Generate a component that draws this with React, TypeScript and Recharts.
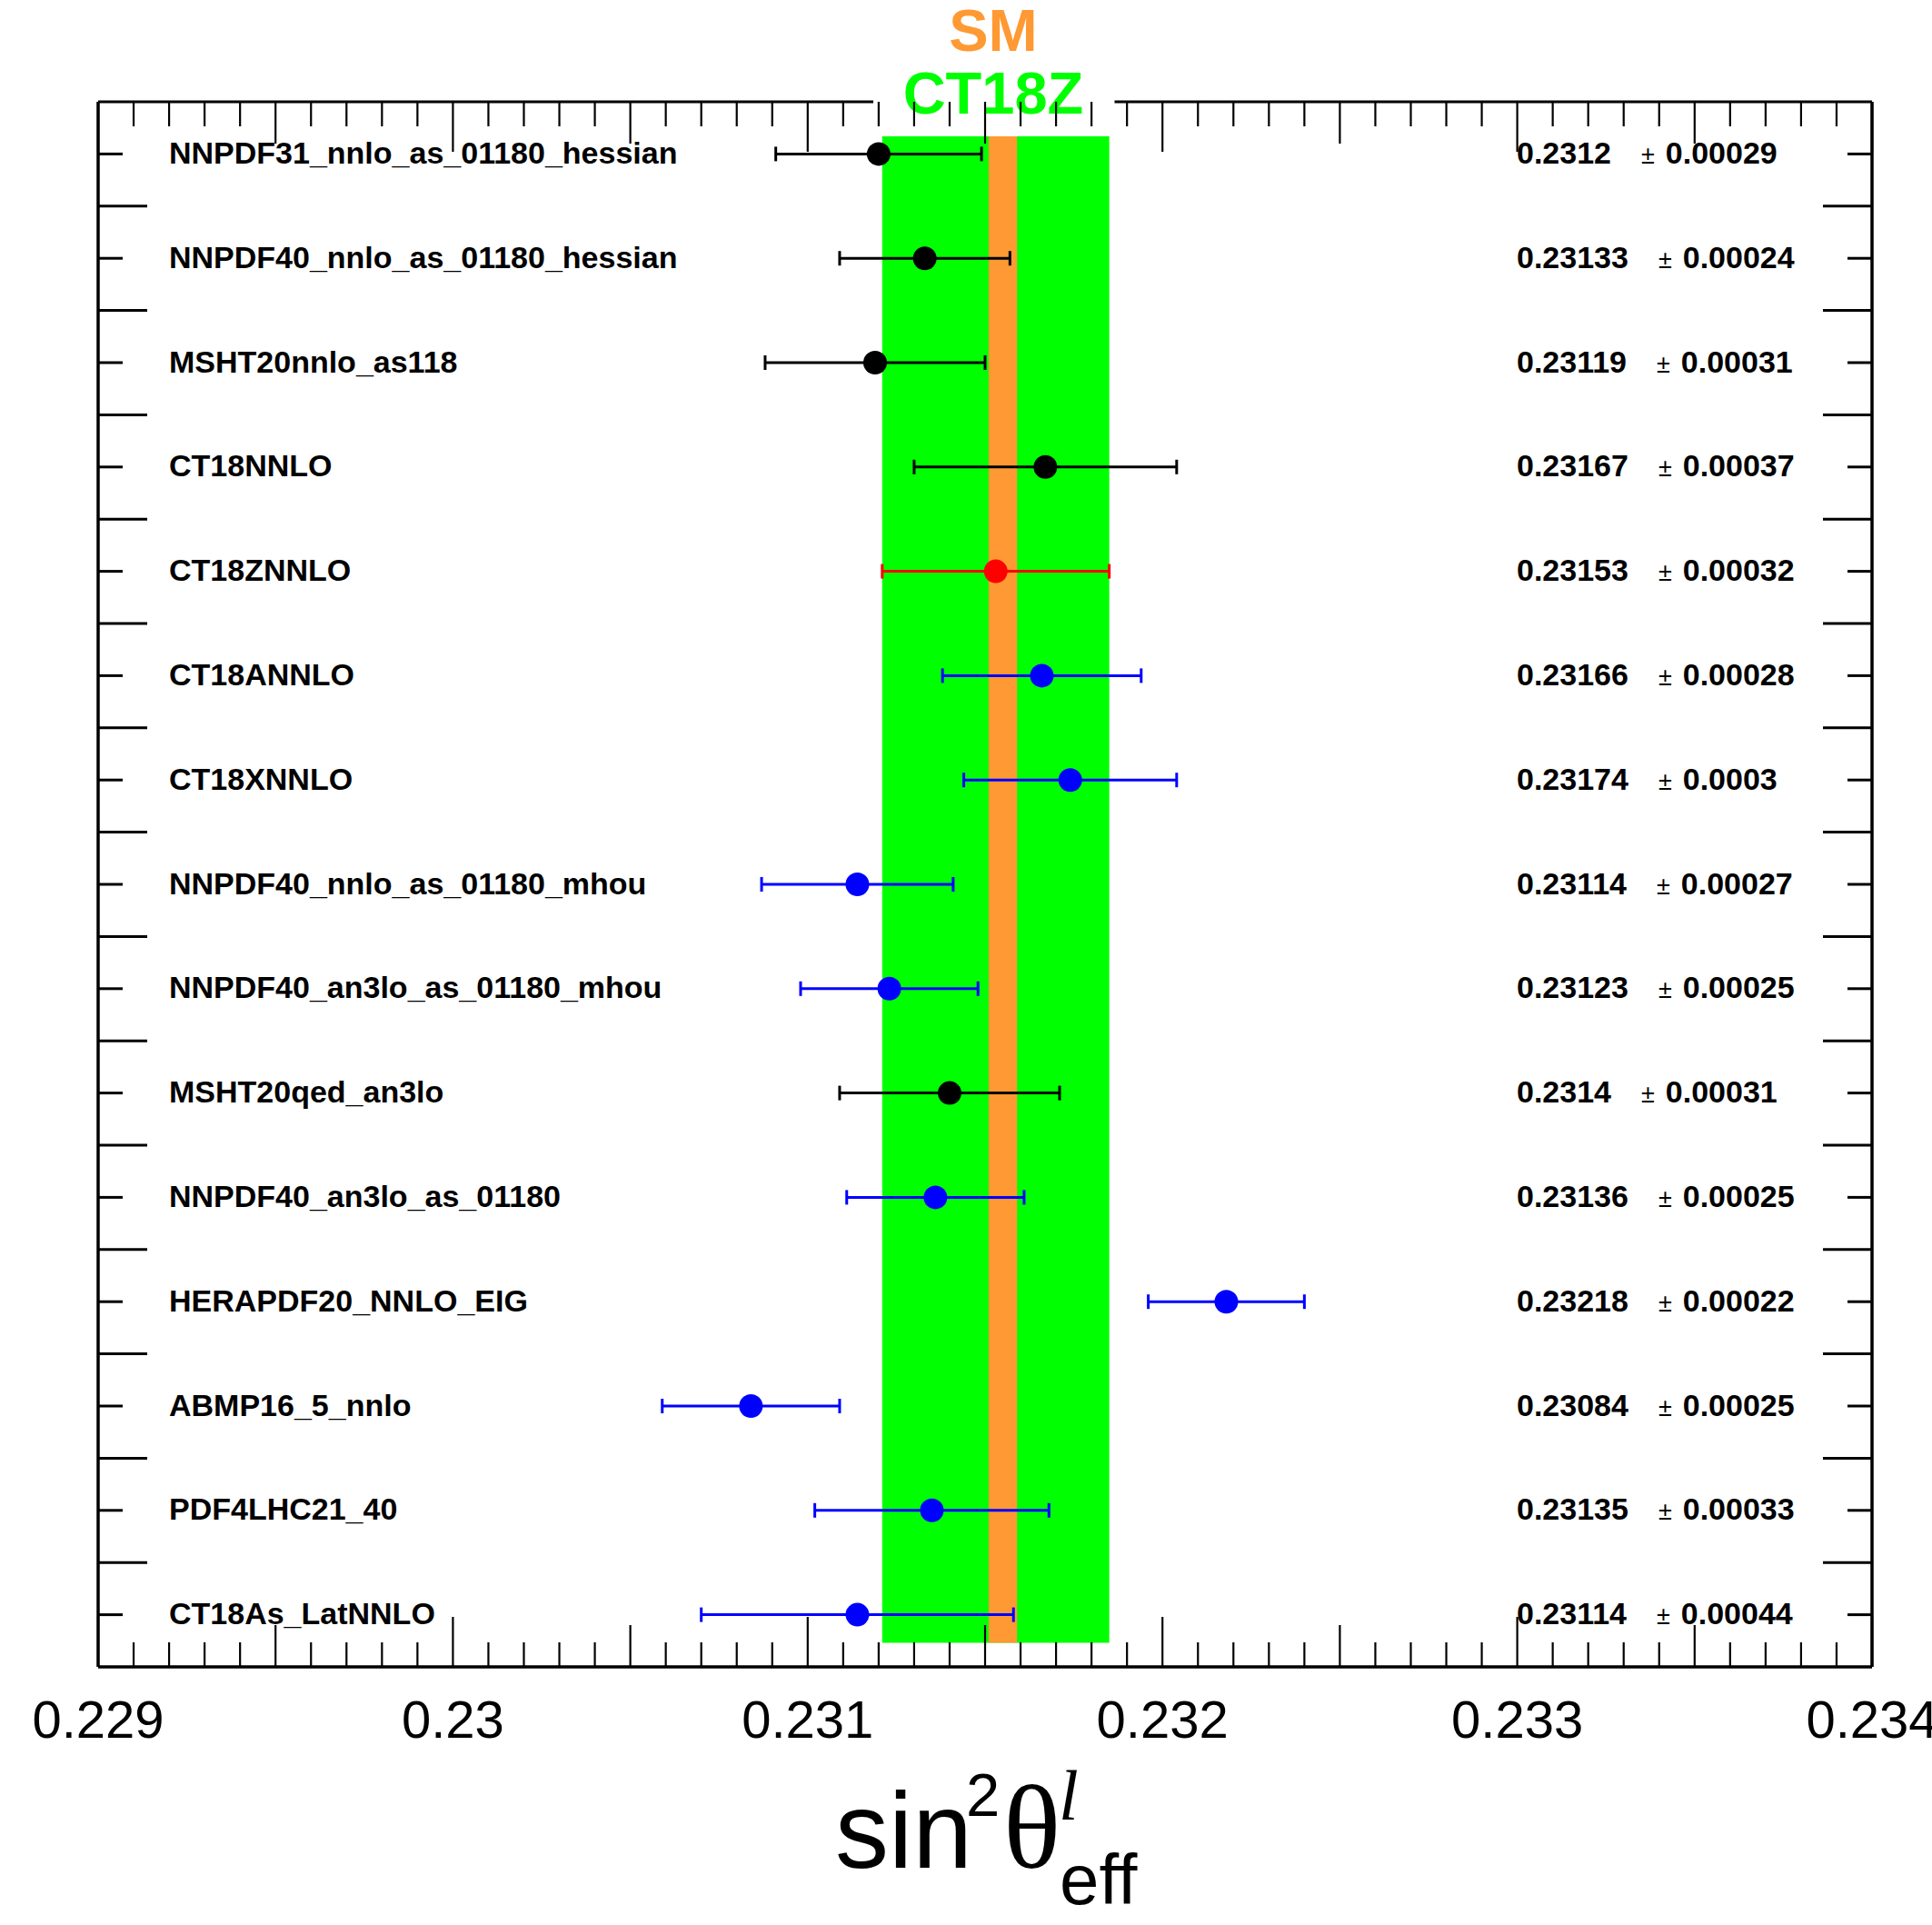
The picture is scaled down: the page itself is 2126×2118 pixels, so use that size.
import React from 'react';
import { ScatterChart, Scatter, XAxis, YAxis, ErrorBar, ReferenceArea } from 'recharts';

// ---------- data ----------
const names = [
  'NNPDF31_nnlo_as_01180_hessian',
  'NNPDF40_nnlo_as_01180_hessian',
  'MSHT20nnlo_as118',
  'CT18NNLO',
  'CT18ZNNLO',
  'CT18ANNLO',
  'CT18XNNLO',
  'NNPDF40_nnlo_as_01180_mhou',
  'NNPDF40_an3lo_as_01180_mhou',
  'MSHT20qed_an3lo',
  'NNPDF40_an3lo_as_01180',
  'HERAPDF20_NNLO_EIG',
  'ABMP16_5_nnlo',
  'PDF4LHC21_40',
  'CT18As_LatNNLO',
];
const values = [0.2312, 0.23133, 0.23119, 0.23167, 0.23153, 0.23166, 0.23174, 0.23114, 0.23123, 0.2314, 0.23136, 0.23218, 0.23084, 0.23135, 0.23114];
const errors = [0.00029, 0.00024, 0.00031, 0.00037, 0.00032, 0.00028, 0.0003, 0.00027, 0.00025, 0.00031, 0.00025, 0.00022, 0.00025, 0.00033, 0.00044];
const groups = ['black', 'black', 'black', 'black', 'red', 'blue', 'blue', 'blue', 'blue', 'black', 'blue', 'blue', 'blue', 'blue', 'blue'];

const xTickLabels = [0.229, 0.23, 0.231, 0.232, 0.233, 0.234];
const ct18zBand = { central: 0.23153, err: 0.00032 };
const smBand = { central: 0.23155, err: 0.00004 };
const bandRows = [0.33, 14.77];

// ---------- style ----------
const COLORS: Record<string, string> = { black: '#000000', red: '#ff0000', blue: '#0000ff' };
const GREEN = '#00ff00';
const ORANGE = '#ff9933';
const SANS = '"Liberation Sans", Arial, Helvetica, sans-serif';
const SERIF = '"Liberation Serif", "Times New Roman", serif';

const W = 2126;
const H = 2118;
const X_MIN = xTickLabels[0];
const X_MAX = xTickLabels[xTickLabels.length - 1];
const N = names.length;

const rows = names.map((name, i) => ({
  name,
  x: values[i],
  y: i + 0.5,
  err: errors[i],
  group: groups[i],
}));
const seriesGroups = ['black', 'red', 'blue'];

const xTicks = Array.from({ length: Math.round((X_MAX - X_MIN) / 0.0001) + 1 }, (_, k) => +(X_MIN + k * 0.0001).toFixed(4));
const yTicks = [
  ...Array.from({ length: N }, (_, i) => i + 0.5),
  ...Array.from({ length: N - 1 }, (_, i) => i + 1),
];

const tickLen = (v: number) => {
  const k = Math.round((v - X_MIN) * 10000);
  return k % 10 === 0 ? 55 : k % 5 === 0 ? 46 : 27;
};

const BottomTick = (p: any) => {
  const v = p.payload.value;
  const k = Math.round((v - X_MIN) * 10000);
  const label = xTickLabels.find((t) => Math.abs(t - v) < 1e-9);
  return (
    <g>
      <line x1={p.x} x2={p.x} y1={p.y} y2={p.y - tickLen(v)} stroke="#000" strokeWidth={2.2} />
      {k % 10 === 0 && label !== undefined && (
        <text x={p.x} y={p.y + 78} textAnchor="middle" fontSize={58} fontFamily={SANS} fill="#000">
          {String(label)}
        </text>
      )}
    </g>
  );
};

const TopTick = (p: any) => {
  const v = p.payload.value;
  return <line x1={p.x} x2={p.x} y1={p.y} y2={p.y + tickLen(v)} stroke="#000" strokeWidth={2.2} />;
};

const LeftTick = (p: any) => {
  const v = p.payload.value;
  const isCenter = Math.abs(v - Math.floor(v) - 0.5) < 1e-6;
  if (!isCenter) {
    return <line x1={p.x} x2={p.x + 54} y1={p.y} y2={p.y} stroke="#000" strokeWidth={3} />;
  }
  const i = Math.floor(v);
  return (
    <g>
      <line x1={p.x} x2={p.x + 27} y1={p.y} y2={p.y} stroke="#000" strokeWidth={3} />
      <text x={p.x + 78} y={p.y + 10.5} fontSize={34} fontWeight="bold" fontFamily={SANS} fill="#000">
        {names[i]}
      </text>
    </g>
  );
};

const RightTick = (p: any) => {
  const v = p.payload.value;
  const isCenter = Math.abs(v - Math.floor(v) - 0.5) < 1e-6;
  if (!isCenter) {
    return <line x1={p.x} x2={p.x - 54} y1={p.y} y2={p.y} stroke="#000" strokeWidth={3} />;
  }
  const i = Math.floor(v);
  return (
    <g>
      <line x1={p.x} x2={p.x - 27} y1={p.y} y2={p.y} stroke="#000" strokeWidth={3} />
      <text x={p.x - 391} y={p.y + 10.5} fontSize={34} fontWeight="bold" fontFamily={SANS} fill="#000">
        {String(values[i])}
        <tspan dx={33} fontSize={27} fontWeight="normal">±</tspan>
        <tspan dx={12}>{String(errors[i])}</tspan>
      </text>
    </g>
  );
};

const AxisTitle = () => (
  <g fill="#000">
    <text x={919} y={2055} fontSize={118} fontFamily={SANS}>sin</text>
    <text x={1063} y={1998} fontSize={67} fontFamily={SANS}>2</text>
    <text x={1104} y={2055} fontSize={132} fontFamily={SERIF}>θ</text>
    <text x={1165} y={2002} fontSize={78} fontFamily={SERIF} fontStyle="italic">l</text>
    <text x={1166} y={2095} fontSize={78} fontFamily={SANS}>eff</text>
  </g>
);

const BandTitle = () => (
  <g>
    <text x={1093} y={56} textAnchor="middle" fontSize={65} fontWeight="bold" fontFamily={SANS} fill={ORANGE}>SM</text>
    <text x={1093} y={125} textAnchor="middle" fontSize={65} fontWeight="bold" fontFamily={SANS} fill={GREEN}>CT18Z</text>
  </g>
);

export default function App() {
  return (
    <div style={{ position: 'absolute', left: 0, top: 0, width: W, height: H, background: '#fff' }}>
      <ScatterChart width={W} height={H} margin={{ top: 111, right: 65, bottom: 283, left: 107 }}>
        <XAxis
          xAxisId={0}
          dataKey="x"
          type="number"
          domain={[X_MIN, X_MAX]}
          allowDataOverflow
          ticks={xTicks}
          interval={0}
          height={1}
          tickSize={0}
          tickMargin={0}
          axisLine={{ stroke: '#000', strokeWidth: 3.5 }}
          tickLine={false}
          tick={<BottomTick />}
          zIndex={100}
          label={{ content: () => <AxisTitle /> }}
        />
        <XAxis
          xAxisId="top"
          orientation="top"
          dataKey="x"
          type="number"
          domain={[X_MIN, X_MAX]}
          allowDataOverflow
          ticks={xTicks}
          interval={0}
          height={1}
          tickSize={0}
          tickMargin={0}
          axisLine={{ stroke: '#000', strokeWidth: 3 }}
          tickLine={false}
          tick={<TopTick />}
          zIndex={100}
        />
        <YAxis
          yAxisId={0}
          dataKey="y"
          type="number"
          domain={[0, N]}
          reversed
          allowDataOverflow
          ticks={yTicks}
          interval={0}
          width={1}
          tickSize={0}
          tickMargin={0}
          axisLine={{ stroke: '#000', strokeWidth: 3.5 }}
          tickLine={false}
          tick={<LeftTick />}
          zIndex={100}
        />
        <YAxis
          yAxisId="r"
          orientation="right"
          dataKey="y"
          type="number"
          domain={[0, N]}
          reversed
          allowDataOverflow
          ticks={yTicks}
          interval={0}
          width={1}
          tickSize={0}
          tickMargin={0}
          axisLine={{ stroke: '#000', strokeWidth: 3.5 }}
          tickLine={false}
          tick={<RightTick />}
          zIndex={100}
        />
        <ReferenceArea
          xAxisId={0}
          yAxisId={0}
          x1={ct18zBand.central - ct18zBand.err}
          x2={ct18zBand.central + ct18zBand.err}
          y1={bandRows[0]}
          y2={bandRows[1]}
          fill={GREEN}
          fillOpacity={1}
          stroke="none"
          ifOverflow="visible"
          zIndex={200}
        />
        <ReferenceArea
          xAxisId={0}
          yAxisId={0}
          x1={smBand.central - smBand.err}
          x2={smBand.central + smBand.err}
          y1={bandRows[0]}
          y2={bandRows[1]}
          fill={ORANGE}
          fillOpacity={1}
          stroke="none"
          ifOverflow="visible"
          zIndex={201}
        />
        <ReferenceArea
          xAxisId={0}
          yAxisId={0}
          x1={ct18zBand.central - ct18zBand.err - 0.000025}
          x2={ct18zBand.central + ct18zBand.err + 0.000015}
          y1={-0.5}
          y2={bandRows[0]}
          fill="#ffffff"
          fillOpacity={1}
          stroke="none"
          ifOverflow="visible"
          zIndex={202}
          label={{ content: () => <BandTitle /> }}
        />
        {seriesGroups.map((g) => (
          <Scatter
            key={g}
            xAxisId={0}
            yAxisId={0}
            data={rows.filter((r) => r.group === g)}
            fill={COLORS[g]}
            isAnimationActive={false}
            shape={(p: any) => <circle cx={p.cx} cy={p.cy} r={13} fill={COLORS[g]} />}
          >
            <ErrorBar dataKey="err" direction="x" width={8} stroke={COLORS[g]} strokeWidth={3} isAnimationActive={false} zIndex={590} />
          </Scatter>
        ))}
      </ScatterChart>
    </div>
  );
}
